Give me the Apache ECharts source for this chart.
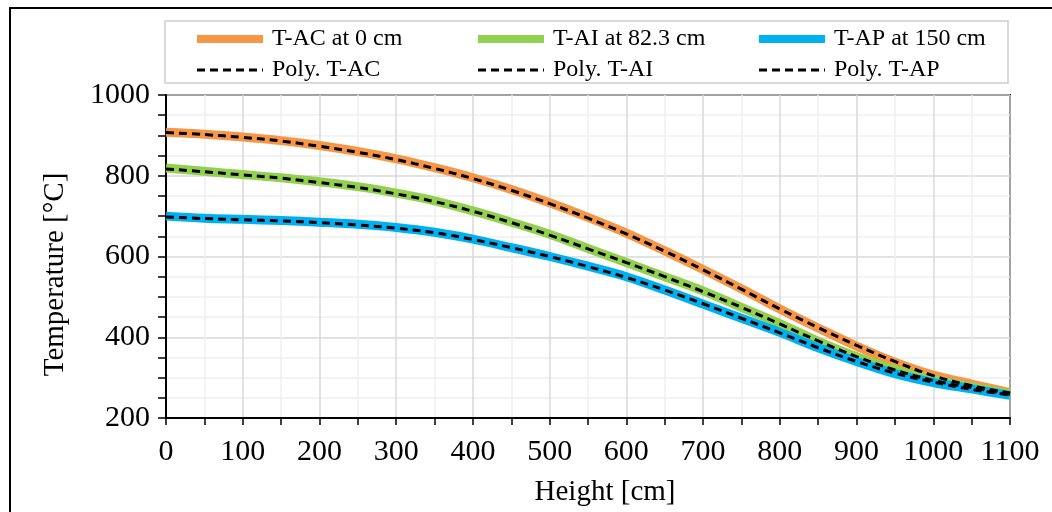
<!DOCTYPE html>
<html>
<head>
<meta charset="utf-8">
<script src="https://cdn.jsdelivr.net/npm/echarts@6/dist/echarts.min.js"></script>
<style>
  html, body { margin: 0; padding: 0; background: #fff; }
  #chart { width: 1052px; height: 512px; }
</style>
</head>
<body>
<div id="chart"></div>
<script>
// Height positions along the column [cm]
const heights = [0, 50, 100, 150, 200, 250, 300, 350, 400, 450, 500, 550,
                 600, 650, 700, 750, 800, 850, 900, 950, 1000, 1050, 1100];

// Measured temperatures [°C]
const tAC = [908, 903, 896, 887, 875, 860, 842, 820, 795, 766, 733, 697,
             658, 614, 568, 520, 470, 423, 378, 338, 306, 284, 263];
const tAI = [819, 811, 803, 795, 785, 773, 757, 738, 713, 685, 655, 620,
             585, 550, 515, 474, 434, 390, 352, 320, 296, 277, 260];
const tAP = [700, 695, 692, 689, 685, 680, 672, 660, 643, 622, 600, 576,
             550, 517, 482, 447, 412, 374, 340, 310, 288, 272, 256];

// Polynomial trend lines [°C]
const polyAC = [907, 902, 895, 886, 873, 858, 840, 818, 793, 764, 731, 695,
                656, 613, 567, 519, 470, 424, 380, 340, 305, 280, 262];
const polyAI = [817, 810, 802, 794, 783, 771, 755, 736, 712, 684, 653, 619,
                585, 550, 513, 474, 433, 391, 352, 319, 293, 275, 259];
const polyAP = [698, 694, 691, 688, 684, 678, 670, 659, 642, 622, 600, 575,
                548, 517, 483, 447, 411, 374, 340, 311, 289, 271, 257];

// Axis ranges and ticks
const xMin = 0, xMax = 1100, xStep = 100;
const yMin = 200, yMax = 1000, yStep = 200;

const names = ['T-AC at 0 cm', 'T-AI at 82.3 cm', 'T-AP at 150 cm',
               'Poly. T-AC', 'Poly. T-AI', 'Poly. T-AP'];
const colors = ['#F79646', '#92D050', '#00B0F0'];

const FONT = "'Liberation Serif', 'Times New Roman', serif";
const DASH = [8, 5];

function pairs(ys) { return heights.map((h, i) => [h, ys[i]]); }

const measured = [tAC, tAI, tAP];
const polys = [polyAC, polyAI, polyAP];

const series = [];
measured.forEach((ys, i) => {
  series.push({
    name: names[i], type: 'line', data: pairs(ys), smooth: 0.35,
    symbol: 'none', z: 2,
    lineStyle: { color: colors[i], width: 9 },
    itemStyle: { color: colors[i] }
  });
});
polys.forEach((ys, i) => {
  series.push({
    name: names[3 + i], type: 'line', data: pairs(ys), smooth: 0.4,
    symbol: 'none', z: 3,
    lineStyle: { color: '#000', width: 3, type: DASH },
    itemStyle: { color: '#000' }
  });
});

function legendColumn(left, i) {
  return {
    orient: 'vertical', left: left, top: 22,
    itemWidth: 66, itemHeight: 10, itemGap: 7,
    itemStyle: { opacity: 0 },
    textStyle: { fontFamily: FONT, fontSize: 24, color: '#000', padding: [0, 0, 0, 4] },
    data: [
      { name: names[i], lineStyle: { color: colors[i], width: 8, type: 'solid', cap: 'butt' } },
      { name: names[3 + i], lineStyle: { color: '#000', width: 3, type: DASH, cap: 'butt' } }
    ],
    selectedMode: false
  };
}

const fmt = v => String(v);

const chart = echarts.init(document.getElementById('chart'), null, { renderer: 'canvas' });
chart.setOption({
  backgroundColor: '#fff',
  animation: false,
  graphic: [
    { type: 'rect', shape: { x: 10, y: 8, width: 2000, height: 2000 },
      style: { fill: 'none', stroke: '#000', lineWidth: 2 }, z: 0, silent: true },
    { type: 'rect', shape: { x: 165, y: 21, width: 843, height: 62 },
      style: { fill: 'none', stroke: '#d9d9d9', lineWidth: 2 }, z: 0, silent: true }
  ],
  legend: [
    legendColumn(188, 0),
    legendColumn(469, 1),
    legendColumn(750, 2)
  ],
  grid: {
    left: 166, right: 42, top: 95, bottom: 94,
    show: true, borderColor: '#000', borderWidth: 2, backgroundColor: 'transparent'
  },
  xAxis: {
    type: 'value', min: xMin, max: xMax, interval: xStep,
    name: 'Height [cm]', nameLocation: 'middle', nameGap: 60,
    nameTextStyle: { fontFamily: FONT, fontSize: 29, color: '#000', padding: [0, 0, 0, 34] },
    axisLine: { show: true, lineStyle: { color: '#000', width: 2 } },
    axisTick: { show: true, inside: false, length: 7, lineStyle: { color: '#000', width: 1.5 } },
    minorTick: { show: true, splitNumber: 2, length: 7, lineStyle: { color: '#000', width: 1.5 } },
    axisLabel: { fontFamily: FONT, fontSize: 30, color: '#000', margin: 19, formatter: fmt },
    splitLine: { show: true, lineStyle: { color: '#d9d9d9', width: 1.5 } },
    minorSplitLine: { show: true, lineStyle: { color: '#f0f0f0', width: 1.5 } }
  },
  yAxis: {
    type: 'value', min: yMin, max: yMax, interval: yStep,
    name: 'Temperature [°C]', nameLocation: 'middle', nameGap: 96, nameRotate: 90,
    nameTextStyle: { fontFamily: FONT, fontSize: 29, color: '#000', padding: [0, 36, 0, 0] },
    axisLine: { show: true, lineStyle: { color: '#000', width: 2 } },
    axisTick: { show: true, inside: false, length: 8, lineStyle: { color: '#000', width: 1.5 } },
    minorTick: { show: true, splitNumber: 4, length: 8, lineStyle: { color: '#000', width: 1.5 } },
    axisLabel: { fontFamily: FONT, fontSize: 30, color: '#000', margin: 16, formatter: fmt },
    splitLine: { show: true, lineStyle: { color: '#d9d9d9', width: 1.5 } },
    minorSplitLine: { show: true, lineStyle: { color: '#f0f0f0', width: 1.5 } }
  },
  series: series
});
</script>
</body>
</html>
